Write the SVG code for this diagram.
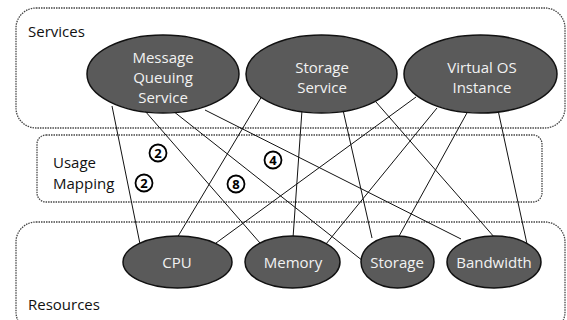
<svg xmlns="http://www.w3.org/2000/svg" width="567" height="320" viewBox="0 0 567 320">
  <style>
    .zone { fill: none; stroke: #444; stroke-width: 1.3; stroke-dasharray: 1.5 1; }
    .zone-label { font-family: "Open Sans", "Liberation Sans", sans-serif; font-size: 15px; fill: #111; }
    .link { stroke: #111; stroke-width: 1; fill: none; }
    .node { fill: #5a5a5a; stroke: #111; stroke-width: 1.5; }
    .node-label { font-family: "Open Sans", "Liberation Sans", sans-serif; font-size: 15px; fill: #f2f2f2; text-anchor: middle; }
    .badge { fill: #fff; stroke: #000; stroke-width: 1.8; }
    .badge-label { font-family: "Open Sans", "Liberation Sans", sans-serif; font-size: 13px; font-weight: bold; fill: #000; text-anchor: middle; }
  </style>

  <!-- layer frames -->
  <g id="services-zone">
    <rect class="zone" x="16" y="8" width="549" height="120" rx="20" ry="20"/>
    <text class="zone-label" x="28" y="37">Services</text>
  </g>
  <g id="usage-zone">
    <rect class="zone" x="37" y="135" width="505" height="67" rx="9" ry="9"/>
    <text class="zone-label" x="53" y="168">Usage</text>
    <text class="zone-label" x="53" y="189">Mapping</text>
  </g>
  <g id="resources-zone">
    <rect class="zone" x="16" y="222" width="549" height="110" rx="20" ry="20"/>
    <text class="zone-label" x="28" y="310">Resources</text>
  </g>

  <!-- service-to-resource mappings -->
  <g id="connectors">
    <line class="link" x1="112" y1="106" x2="140" y2="244"/>
    <line class="link" x1="145" y1="111" x2="260" y2="243"/>
    <line class="link" x1="173" y1="111" x2="363" y2="261"/>
    <line class="link" x1="205" y1="110" x2="461" y2="239"/>

    <line class="link" x1="262" y1="96" x2="177" y2="238"/>
    <line class="link" x1="302" y1="110" x2="293" y2="238"/>
    <line class="link" x1="343" y1="110" x2="372" y2="238"/>
    <line class="link" x1="376" y1="102" x2="495" y2="238"/>

    <line class="link" x1="416" y1="97" x2="216" y2="243"/>
    <line class="link" x1="437" y1="108" x2="326" y2="244"/>
    <line class="link" x1="468" y1="111" x2="398" y2="238"/>
    <line class="link" x1="498" y1="110" x2="527" y2="244"/>
  </g>

  <!-- services -->
  <g id="svc-mq">
    <ellipse class="node" cx="163" cy="74" rx="76" ry="39"/>
    <text class="node-label" x="163" y="63">Message</text>
    <text class="node-label" x="163" y="82.5">Queuing</text>
    <text class="node-label" x="163" y="102.5">Service</text>
  </g>
  <g id="svc-storage">
    <ellipse class="node" cx="321.5" cy="74" rx="75.5" ry="39"/>
    <text class="node-label" x="322" y="73">Storage</text>
    <text class="node-label" x="322" y="93">Service</text>
  </g>
  <g id="svc-vos">
    <ellipse class="node" cx="480.5" cy="74" rx="76.5" ry="39"/>
    <text class="node-label" x="482" y="73">Virtual OS</text>
    <text class="node-label" x="482" y="93">Instance</text>
  </g>

  <!-- resources -->
  <g id="res-cpu">
    <ellipse class="node" cx="177.5" cy="262" rx="54.5" ry="26"/>
    <text class="node-label" x="177" y="268">CPU</text>
  </g>
  <g id="res-memory">
    <ellipse class="node" cx="292.5" cy="262" rx="47.5" ry="26"/>
    <text class="node-label" x="293" y="268">Memory</text>
  </g>
  <g id="res-storage">
    <ellipse class="node" cx="397.5" cy="262" rx="36.5" ry="26"/>
    <text class="node-label" x="397" y="268">Storage</text>
  </g>
  <g id="res-bandwidth">
    <ellipse class="node" cx="494" cy="262" rx="47" ry="26"/>
    <text class="node-label" x="494" y="268">Bandwidth</text>
  </g>

  <!-- usage counts -->
  <g id="count-a">
    <circle class="badge" cx="158" cy="153" r="8.5"/>
    <text class="badge-label" x="158" y="157.7">2</text>
  </g>
  <g id="count-b">
    <circle class="badge" cx="144" cy="183" r="8.5"/>
    <text class="badge-label" x="144" y="187.7">2</text>
  </g>
  <g id="count-c">
    <circle class="badge" cx="236" cy="184" r="8.5"/>
    <text class="badge-label" x="236" y="188.7">8</text>
  </g>
  <g id="count-d">
    <circle class="badge" cx="273" cy="160" r="8.5"/>
    <text class="badge-label" x="273" y="164.7">4</text>
  </g>
</svg>
